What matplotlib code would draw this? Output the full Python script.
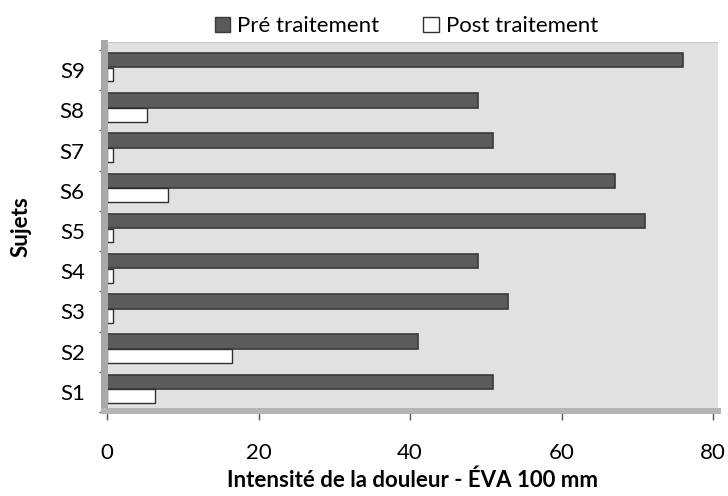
import matplotlib
matplotlib.use('Agg')
import matplotlib.pyplot as plt
from matplotlib.patches import Rectangle, Patch
import numpy as np

plt.rcParams['font.family'] = ['Lato', 'DejaVu Sans']

# data
sujets = ['S1', 'S2', 'S3', 'S4', 'S5', 'S6', 'S7', 'S8', 'S9']
pre = [51, 41, 53, 49, 71, 67, 51, 49, 76]
post = [6.3, 16.5, 0.8, 0.8, 0.8, 8, 0.8, 5.3, 0.8]
xticks = [0, 20, 40, 60, 80]

fig = plt.figure(figsize=(7.28, 4.96), dpi=100)
W, H = 728, 496
# axes box in pixels: x 107..718, y 42..412 (top..bottom)
ax = fig.add_axes([107 / W, 1 - 412 / H, 611 / W, 370 / H])
ax.set_facecolor('#e1e1e1')

y = np.arange(len(sujets))
ax.barh(y + 0.25, pre, height=0.36, color='#5b5b5b', edgecolor='#3a3a3a', linewidth=1.2, zorder=3)
ax.barh(y - 0.11, post, height=0.34, color='white', edgecolor='#303030', linewidth=1.0, zorder=3)

ax.set_xlim(0, 80 * 611 / 606)
ax.set_ylim(-0.5, 8.7)

for s in ax.spines.values():
    s.set_visible(False)

# 3D-ish walls: left wall and floor
fig.patches.append(Rectangle((101 / W, 1 - 412 / H), 7 / W, 372 / H, transform=fig.transFigure,
                             facecolor='#a9a9a9', edgecolor='none', zorder=0))
fig.patches.append(Rectangle((101 / W, 1 - 414 / H), 620 / W, 6 / H, transform=fig.transFigure,
                             facecolor='#b4b4b4', edgecolor='none', zorder=0))
fig.patches.append(Rectangle((107 / W, 1 - 43 / H), 611 / W, 1 / H, transform=fig.transFigure,
                             facecolor='#c8c8c8', edgecolor='none', zorder=0))

ax.set_yticks(y)
ax.set_yticklabels(sujets, fontsize=16)
ax.set_yticks(np.arange(-0.5, 9, 1), minor=True)
ax.tick_params(axis='y', which='major', length=0, pad=16)
ax.tick_params(axis='y', which='minor', length=6, color='#555555', width=1, pad=0)

ax.set_xticks(xticks)
ax.set_xticklabels([str(t) for t in xticks], fontsize=16)
ax.tick_params(axis='x', length=6, color='#555555', width=1, pad=16)

ax.set_xlabel('Intensité de la douleur - ÉVA 100 mm', fontsize=16, fontweight='bold', labelpad=5)
ax.set_ylabel('Sujets', fontsize=16, fontweight='bold', labelpad=20)

handles = [Patch(facecolor='#5b5b5b', edgecolor='#3a3a3a', label='Pré traitement'),
           Patch(facecolor='white', edgecolor='#303030', label='Post traitement')]
fig.legend(handles=handles, loc='center', bbox_to_anchor=(0.558, 0.947), ncol=2, frameon=False,
           fontsize=16, handlelength=0.7, handleheight=0.7, handletextpad=0.3, columnspacing=2.0)

fig.savefig('out.png', dpi=100)
